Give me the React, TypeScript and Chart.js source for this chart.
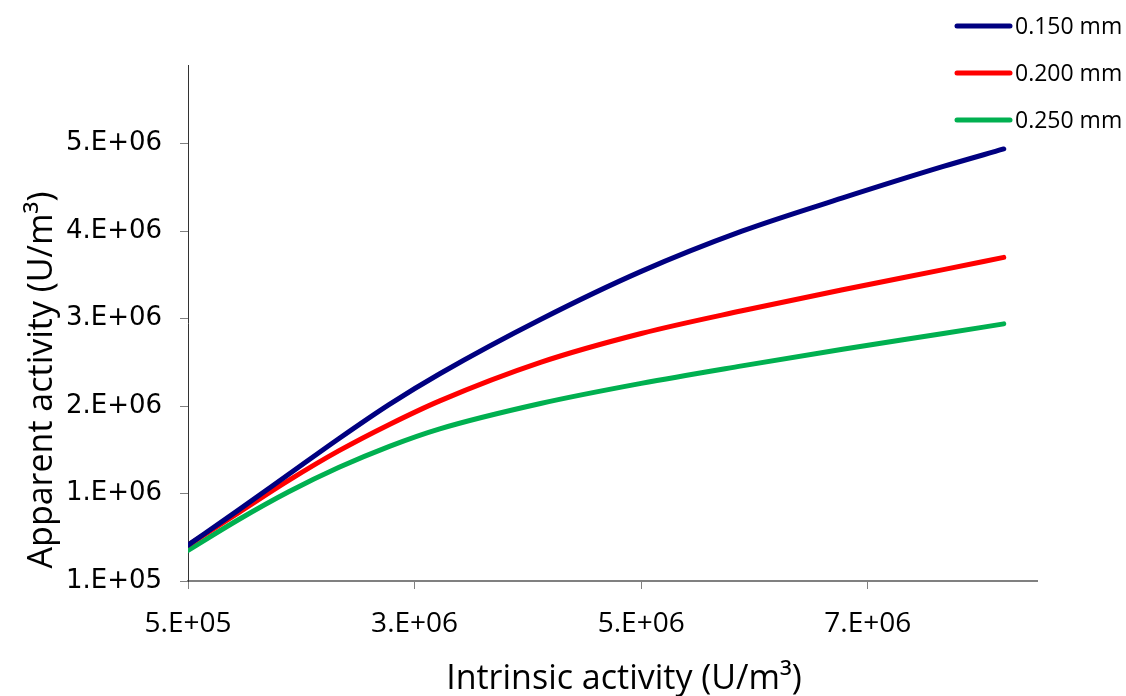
import React, { useEffect, useRef } from "react";
import { Chart, registerables } from "chart.js";

Chart.register(...registerables);

// ---- data ----
const intrinsic = [5e5, 1e6, 1.5e6, 2e6, 2.5e6, 3e6, 4e6, 5e6, 6e6, 7e6, 8e6, 8.6e6];
const series150 = [0.51e6, 0.91e6, 1.32e6, 1.73e6, 2.12e6, 2.47e6, 3.09e6, 3.64e6, 4.1e6, 4.48e6, 4.84e6, 5.04e6];
const series200 = [0.51e6, 0.88e6, 1.25e6, 1.59e6, 1.89e6, 2.16e6, 2.6e6, 2.93e6, 3.19e6, 3.43e6, 3.66e6, 3.8e6];
const series250 = [0.45e6, 0.8e6, 1.12e6, 1.4e6, 1.64e6, 1.84e6, 2.13e6, 2.36e6, 2.56e6, 2.75e6, 2.93e6, 3.04e6];
const seriesLabels = ["0.150 mm", "0.200 mm", "0.250 mm"];
const seriesColors = ["#000080", "#FF0000", "#00B050"];

const xTickValues = [5e5, 2.75e6, 5e6, 7.25e6];
const xTickLabels = ["5.E+05", "3.E+06", "5.E+06", "7.E+06"];
const yTickValues = [1e5, 1.1e6, 2.1e6, 3.1e6, 4.1e6, 5.1e6];
const yTickLabels = ["1.E+05", "1.E+06", "2.E+06", "3.E+06", "4.E+06", "5.E+06"];

const xTitle = "Intrinsic activity (U/m\u00B3)";
const yTitle = "Apparent activity (U/m\u00B3)";

const xMin = 5e5;
const xMax = 8.93e6;
const yMin = 1e5;
const yMax = 6e6;

const labelFor = (values: number[], labels: string[], v: number) => {
  const i = values.findIndex((t) => Math.abs(t - v) < 1);
  return i >= 0 ? labels[i] : "";
};

const decorPlugin = {
  id: "decor",
  afterDraw(chart: any) {
    const ctx = chart.ctx as CanvasRenderingContext2D;
    ctx.save();
    // axis titles
    ctx.fillStyle = "#000";
    ctx.font = '34px "Open Sans"';
    ctx.textAlign = "center";
    ctx.textBaseline = "alphabetic";
    ctx.fillText(xTitle, 624, 689);
    ctx.save();
    ctx.translate(52, 380);
    ctx.rotate(-Math.PI / 2);
    ctx.fillText(yTitle, 0, 0);
    ctx.restore();
    // legend
    chart.data.datasets.forEach((ds: any, i: number) => {
      const y = 26 + i * 47;
      ctx.strokeStyle = ds.borderColor;
      ctx.lineWidth = 5;
      ctx.lineCap = "round";
      ctx.beginPath();
      ctx.moveTo(957, y);
      ctx.lineTo(1010, y);
      ctx.stroke();
      ctx.fillStyle = "#000";
      ctx.font = '23px "Open Sans"';
      ctx.textAlign = "left";
      ctx.textBaseline = "middle";
      ctx.fillText(ds.label, 1015, y + 1);
    });
    ctx.restore();
  },
};

export default function App() {
  const canvasRef = useRef<HTMLCanvasElement | null>(null);

  useEffect(() => {
    if (!canvasRef.current) return;
    const all = [series150, series200, series250];
    const chart = new Chart(canvasRef.current, {
      type: "line",
      data: {
        datasets: all.map((s, i) => ({
          label: seriesLabels[i],
          data: intrinsic.map((x, j) => ({ x, y: s[j] })),
          borderColor: seriesColors[i],
          backgroundColor: seriesColors[i],
          borderWidth: 5,
          pointRadius: 0,
          fill: false,
          cubicInterpolationMode: "monotone" as const,
          borderCapStyle: "round" as const,
          borderJoinStyle: "round" as const,
        })),
      },
      options: {
        animation: false,
        responsive: false,
        devicePixelRatio: 1,
        layout: { padding: { left: 0, top: 65, right: 89, bottom: 0 } },
        plugins: {
          legend: { display: false },
          tooltip: { enabled: false },
        },
        scales: {
          x: {
            type: "linear",
            min: xMin,
            max: xMax,
            afterBuildTicks: (s: any) => {
              s.ticks = xTickValues.map((v) => ({ value: v }));
            },
            afterFit: (s: any) => {
              s.height = 115;
            },
            ticks: {
              autoSkip: false,
              maxRotation: 0,
              padding: 18,
              color: "#000",
              font: { family: '"Open Sans"', size: 28 },
              callback: (v: any) => labelFor(xTickValues, xTickLabels, Number(v)),
            },
            grid: {
              display: true,
              drawOnChartArea: false,
              drawTicks: true,
              tickLength: 8,
              color: "#808080",
              lineWidth: 1,
            },
            border: { display: true, color: "#808080", width: 2 },
          },
          y: {
            type: "linear",
            min: yMin,
            max: yMax,
            afterBuildTicks: (s: any) => {
              s.ticks = yTickValues.map((v) => ({ value: v }));
            },
            afterFit: (s: any) => {
              s.width = 188;
            },
            ticks: {
              autoSkip: false,
              padding: 18,
              color: "#000",
              font: { family: '"DejaVu Sans"', size: 26 },
              callback: (v: any) => labelFor(yTickValues, yTickLabels, Number(v)),
            },
            grid: {
              display: true,
              drawOnChartArea: false,
              drawTicks: true,
              tickLength: 8,
              color: "#808080",
              lineWidth: 1,
            },
            border: { display: true, color: "#333333", width: 1 },
          },
        },
      },
      plugins: [decorPlugin],
    });
    return () => chart.destroy();
  }, []);

  return (
    <div style={{ position: "fixed", left: 0, top: 0, width: 1126, height: 696, background: "#fff" }}>
      <canvas ref={canvasRef} width={1126} height={696} style={{ display: "block", width: 1126, height: 696 }} />
    </div>
  );
}
